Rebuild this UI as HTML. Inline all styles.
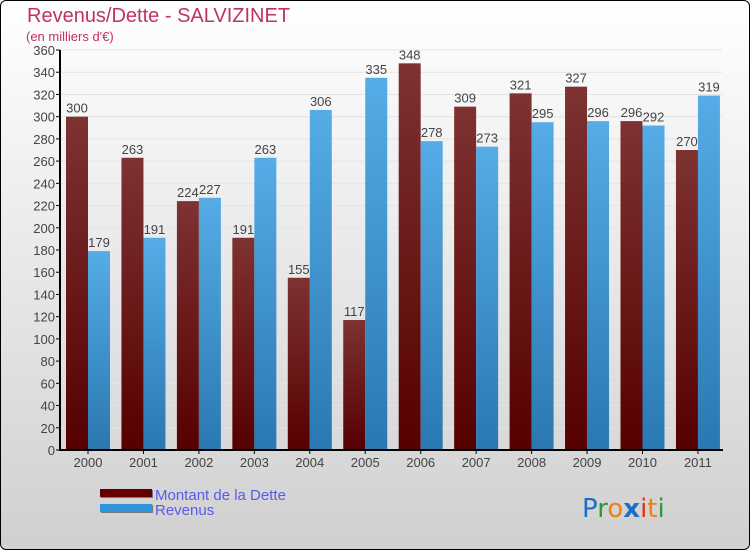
<!DOCTYPE html>
<html><head><meta charset="utf-8"><style>
body{margin:0;width:750px;height:550px;overflow:hidden;font-family:"Liberation Sans",sans-serif}
#wrap{position:absolute;left:0;top:0;width:748px;height:548px;border:1px solid #000;border-radius:6px;background:linear-gradient(#ffffff,#d0d0d0)}
</style></head><body>
<div id="wrap">
<svg id="chart" width="750" height="550" style="position:absolute;left:-1px;top:-1px">
<defs>
<linearGradient id="gd" x1="0" y1="0" x2="0" y2="1"><stop offset="0" stop-color="#7e3232"/><stop offset="1" stop-color="#560000"/></linearGradient>
<linearGradient id="gr" x1="0" y1="0" x2="0" y2="1"><stop offset="0" stop-color="#56ace6"/><stop offset="1" stop-color="#2a78b2"/></linearGradient>
</defs>
<text x="27" y="22" font-size="20" fill="#c0306a">Revenus/Dette - SALVIZINET</text>
<text x="26" y="41" font-size="13" fill="#c0306a">(en milliers d'€)</text>
<g id="grid"></g><g id="bars"></g><g id="axes"></g>
<rect x="101" y="490" width="52" height="8" fill="#777"/>
<rect x="101" y="505" width="52" height="8" fill="#777"/>
<rect x="100" y="489" width="52" height="8" fill="#660000"/>
<rect x="100" y="504" width="52" height="8" fill="#2e95dc"/>
<text x="155" y="500" font-size="15" fill="#5a5aee">Montant de la Dette</text>
<text x="155" y="515" font-size="15" fill="#5a5aee">Revenus</text>
<g font-size="26" font-family="DejaVu Sans, sans-serif">
<text x="582" y="517"><tspan fill="#1a6fcc">P</tspan><tspan fill="#2a9a3a">r</tspan><tspan fill="#f08010">o</tspan><tspan fill="#1a6fcc" font-weight="bold">x</tspan><tspan fill="#e83010">i</tspan><tspan fill="#f08010">t</tspan><tspan fill="#2a9a3a">i</tspan></text>
</g>
</svg></div>
<script>
const years=["2000","2001","2002","2003","2004","2005","2006","2007","2008","2009","2010","2011"];
const dette=[300,263,224,191,155,117,348,309,321,327,296,270];
const revenus=[179,191,227,263,306,335,278,273,295,296,292,319];
const yTicks=[0,20,40,60,80,100,120,140,160,180,200,220,240,260,280,300,320,340,360];
const NS="http://www.w3.org/2000/svg";
const x0=62,groupW=55.45,plotBottom=450,plotTop=50,yMax=360;
const yScale=v=>plotBottom-(plotBottom-plotTop)*v/yMax;
function mk(tag,attrs,parent){const e=document.createElementNS(NS,tag);for(const k in attrs)e.setAttribute(k,attrs[k]);parent.appendChild(e);return e;}
const gridG=document.getElementById('grid'),barsG=document.getElementById('bars'),axesG=document.getElementById('axes');
yTicks.forEach(t=>{
  const l=mk('line',{x1:60,x2:722,y1:yScale(t),y2:yScale(t),stroke:'#e4e4e4','stroke-width':1},gridG);
  
  
  mk('line',{x1:56,x2:60,y1:yScale(t),y2:yScale(t),stroke:'#000'},axesG);
  const tx=mk('text',{x:55,y:yScale(t)+5,'text-anchor':'end','font-size':13,fill:'#444'},axesG);
  tx.textContent=t;
  
  
});
years.forEach((yr,i)=>{
  const gx=x0+i*groupW;
  const bd=mk('rect',{x:gx+4,y:yScale(dette[i]),width:22,height:plotBottom-yScale(dette[i]),fill:'url(#gd)'},barsG);
  
  
  const br=mk('rect',{x:gx+26,y:yScale(revenus[i]),width:22,height:plotBottom-yScale(revenus[i]),fill:'url(#gr)'},barsG);
  
  
  const ld=mk('text',{x:gx+15,y:yScale(dette[i])-4,'text-anchor':'middle','font-size':13,fill:'#444'},barsG);
  ld.textContent=dette[i];
  
  
  const lr=mk('text',{x:gx+37,y:yScale(revenus[i])-4,'text-anchor':'middle','font-size':13,fill:'#444'},barsG);
  lr.textContent=revenus[i];
  
  
  const cx=gx+26;
  mk('line',{x1:cx,x2:cx,y1:plotBottom,y2:plotBottom+4,stroke:'#000'},axesG);
  const xl=mk('text',{x:cx,y:plotBottom+17,'text-anchor':'middle','font-size':13,fill:'#444'},axesG);
  xl.textContent=yr;
  
  
});
const ya=mk('line',{x1:60,x2:60,y1:plotTop,y2:plotBottom+1,stroke:'#000','stroke-width':2},axesG);


const xa=mk('line',{x1:59,x2:723,y1:plotBottom,y2:plotBottom,stroke:'#000','stroke-width':2},axesG);


</script>
</body></html>
